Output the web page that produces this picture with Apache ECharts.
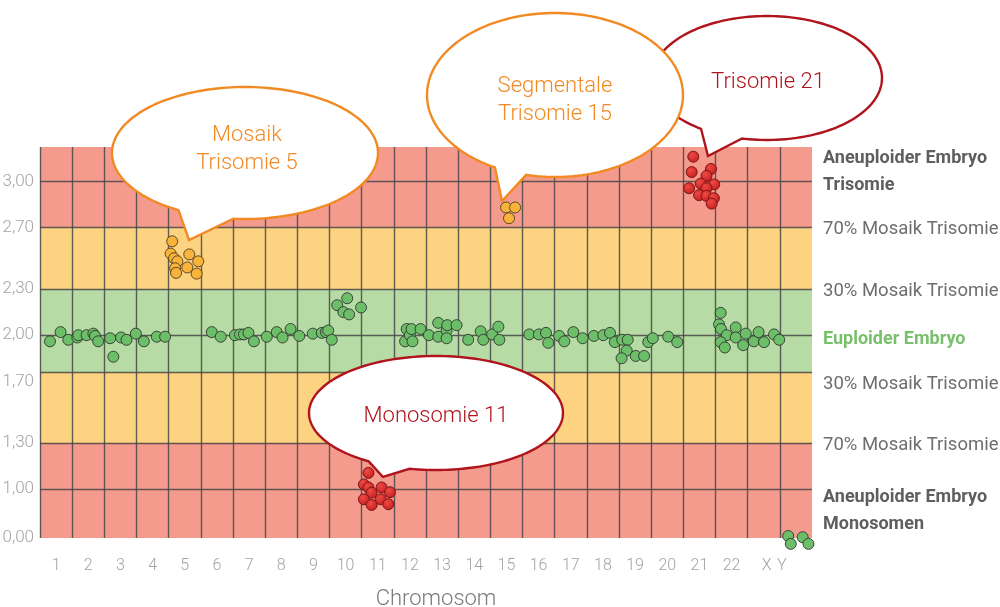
<!DOCTYPE html>
<html><head><meta charset="utf-8">
<script src="https://cdn.jsdelivr.net/npm/echarts@6/dist/echarts.min.js"></script>
<style>html,body{margin:0;padding:0;background:#fff}#c{width:1000px;height:607px}</style>
</head><body><div id="c"></div>
<script>
// ---------- data ----------
const categories = ['1','2','3','4','5','6','7','8','9','10','11','12','13','14','15','16','17','18','19','20','21','22','X','Y'];
const leftTicks = [0, 1.0, 1.3, 1.7, 2.0, 2.3, 2.7, 3.0];
const hLineValues = [0, 1.0, 1.3, 1.76, 2.0, 2.3, 2.7, 3.0];
const bandEdges = [0, 1.3, 1.76, 2.3, 2.7, 3.223];
const bandKinds = ['red', 'yellow', 'green', 'yellow', 'red'];
const rightLabelValues = [3.06, 2.687, 2.287, 1.975, 1.68, 1.287, 0.56];
const rightLabelTexts = [
  ['Aneuploider Embryo', 'Trisomie'],
  ['70% Mosaik Trisomie'],
  ['30% Mosaik Trisomie'],
  ['Euploider Embryo'],
  ['30% Mosaik Trisomie'],
  ['70% Mosaik Trisomie'],
  ['Aneuploider Embryo', 'Monosomen']
];
const rightLabelKinds = ['b', 'n', 'n', 'g', 'n', 'n', 'b'];

// points: [chromosome position, copy number]
const euploidPoints = [
  [0.31,1.96],[0.64,2.02],[0.88,1.97],[1.16,1.985],[1.19,2.00],[1.45,2.00],[1.66,2.01],[1.71,1.995],[1.81,1.96],
  [2.18,1.98],[2.28,1.86],[2.52,1.985],[2.69,1.97],[2.98,2.01],[3.23,1.96],[3.63,1.99],[3.89,1.99],
  [5.34,2.02],[5.62,1.99],[6.06,2.00],[6.22,2.005],[6.34,2.005],[6.48,2.015],[6.65,1.96],[7.05,1.99],[7.36,2.02],
  [7.54,1.985],[7.79,2.04],[8.06,1.995],[8.48,2.01],[8.76,2.015],[8.89,2.02],[8.96,2.03],[9.07,1.97],
  [9.24,2.195],[9.55,2.24],[9.43,2.15],[9.61,2.135],[9.98,2.18],
  [11.35,1.96],[11.40,2.04],[11.50,2.00],[11.55,2.04],[11.58,1.96],[11.83,2.04],
  [12.09,2.00],[12.38,2.08],[12.38,1.99],[12.64,2.03],[12.64,1.98],[12.66,2.065],[12.95,2.065],
  [13.31,1.97],[13.70,2.025],[13.78,1.97],[14.06,2.005],[14.25,2.055],[14.28,1.97],
  [15.21,2.005],[15.51,2.005],[15.73,2.015],[15.80,1.95],[16.14,1.995],[16.30,1.96],[16.58,2.02],[16.87,1.98],
  [17.22,1.995],[17.51,2.00],[17.72,2.015],[17.87,1.955],[18.10,1.97],[18.27,1.97],[18.24,1.90],[18.08,1.85],
  [18.52,1.865],[18.78,1.865],[18.91,1.955],[19.05,1.98],[19.53,1.99],[19.81,1.955],
  [21.16,2.145],[21.11,2.07],[21.17,2.04],[21.35,2.00],[21.16,1.955],[21.29,1.92],[21.63,2.05],[21.63,1.985],
  [21.94,2.01],[21.86,1.935],[22.19,1.96],[22.34,2.02],[22.51,1.955],[22.82,2.005],[22.98,1.97],
  [23.26,0.04],[23.34,-0.12],[23.71,0.015],[23.89,-0.12]
];
const mosaicPoints = [
  [4.11,2.61],[4.06,2.53],[4.17,2.50],[4.27,2.48],[4.20,2.435],[4.23,2.405],[4.64,2.525],[4.58,2.44],[4.92,2.48],[4.87,2.40],
  [14.49,2.83],[14.77,2.83],[14.58,2.76]
];
const aneuploidPoints = [
  [20.31,3.16],[20.26,3.06],[20.86,3.08],[20.72,3.035],[20.18,2.955],[20.54,2.985],[20.96,2.98],[20.72,2.955],
  [20.49,2.91],[20.72,2.905],[20.95,2.89],[20.88,2.855],
  [10.21,1.105],[10.07,1.03],[10.21,1.01],[10.31,0.925],[10.62,1.01],[10.88,0.935],[10.07,0.79],[10.59,0.79],
  [10.31,0.675],[10.83,0.69]
];

// ---------- scale (axis compressed below 1.00) ----------
const LOW = 49 / 154;
const tr = v => v >= 1 ? v : 1 - (1 - v) * LOW;
const inv = t => t >= 1 ? t : 1 - (1 - t) / LOW;
const YMIN = tr(0), YMAX = tr(bandEdges[bandEdges.length - 1]);

const bandColors = { red: '#F59B8E', yellow: '#FDD280', green: '#B6DBA4' };
const lineColor = 'rgba(70,70,70,0.85)';

const chart = echarts.init(document.getElementById('c'));

const markAreaData = bandKinds.map((k, i) => [
  { yAxis: tr(bandEdges[i]), itemStyle: { color: bandColors[k] } },
  { yAxis: tr(bandEdges[i + 1]) }
]);
const markLineData = hLineValues.map(v => ({ yAxis: tr(v) }))
  .concat(categories.map((c, i) => ({ xAxis: i })));

function bubble(cx, cy, rx, ry, a1, a2, tip) {
  const r = Math.PI / 180, pts = [];
  for (let a = a2; a < a1 + 360; a += 2) pts.push([cx + rx * Math.cos(a * r), cy + ry * Math.sin(a * r)]);
  pts.push([cx + rx * Math.cos(a1 * r), cy + ry * Math.sin(a1 * r)]);
  pts.push(tip);
  return pts;
}
const ORANGE = '#F28A24', DARKRED = '#B0141C';
function bubbleEls(b) {
  return [
    { type: 'polygon', z: 100, shape: { points: bubble(b.cx, b.cy, b.rx, b.ry, b.a1, b.a2, b.tip) },
      style: { fill: '#fff', stroke: b.color, lineWidth: 2.4 } },
    { type: 'text', z: 101, x: b.tx, y: b.ty,
      style: { text: b.text, fill: b.color, fontSize: 22, fontWeight: 300, fontFamily: 'Roboto',
               align: 'center', verticalAlign: 'middle', lineHeight: 28 } }
  ];
}
const bubbles = [
  { cx: 767, cy: 78, rx: 115, ry: 62, a1: 102.5, a2: 125, tip: [708, 156], color: DARKRED, text: 'Trisomie 21', tx: 768, ty: 82 },
  { cx: 555, cy: 95, rx: 128, ry: 82, a1: 103, a2: 118, tip: [502, 201], color: ORANGE, text: 'Segmentale\nTrisomie 15', tx: 555, ty: 100 },
  { cx: 245, cy: 153, rx: 133, ry: 66, a1: 95, a2: 120, tip: [189, 240], color: ORANGE, text: 'Mosaik\nTrisomie 5', tx: 247, ty: 149 },
  { cx: 436, cy: 413, rx: 127, ry: 57, a1: 102, a2: 122, tip: [383, 477], color: DARKRED, text: 'Monosomie 11', tx: 436, ty: 416 }
];

const pointBorder = 'rgba(45,45,45,0.85)';
const option = {
  animation: false,
  backgroundColor: '#fff',
  textStyle: { fontFamily: 'Roboto' },
  grid: { left: 40, right: 188, top: 147, bottom: 69, outerBoundsMode: 'none', containLabel: false },
  xAxis: [
    { type: 'category', data: categories, boundaryGap: true,
      axisLine: { show: false }, axisTick: { show: false }, splitLine: { show: false },
      axisLabel: { color: '#A3A3A3', fontSize: 16, fontWeight: 300, margin: 20, interval: 0,
        formatter: v => v === 'Y' ? '{y|Y}' : (v === 'X' ? '{x|X}' : v),
        rich: { y: { fontSize: 16, fontWeight: 300, color: '#A3A3A3', padding: [0, 28, 0, 0] },
                x: { fontSize: 16, fontWeight: 300, color: '#A3A3A3', padding: [0, 0, 0, 6] } } },
      name: 'Chromosom', nameLocation: 'middle', nameGap: 50,
      nameTextStyle: { color: '#7A7A7A', fontSize: 22, fontWeight: 300, padding: [0, 0, 0, 20] } },
    { type: 'value', min: 0, max: categories.length, show: false }
  ],
  yAxis: [
    { type: 'value', min: YMIN, max: YMAX, position: 'left',
      axisLine: { show: false }, axisTick: { show: false }, splitLine: { show: false },
      axisLabel: { customValues: leftTicks.map(tr), margin: 6, color: '#A3A3A3', fontSize: 17, fontWeight: 300,
        formatter: val => { const v = inv(val); return (Math.abs(v) < 1e-6 ? 0 : v).toFixed(2).replace('.', ','); } } },
    { type: 'value', min: YMIN, max: YMAX, position: 'right',
      axisLine: { show: false }, axisTick: { show: false }, splitLine: { show: false },
      axisLabel: { customValues: rightLabelValues.map(tr), margin: 11, align: 'left',
        formatter: val => {
          let best = 0, d = 1e9;
          rightLabelValues.forEach((v, i) => { const dd = Math.abs(tr(v) - val); if (dd < d) { d = dd; best = i; } });
          const k = rightLabelKinds[best];
          return rightLabelTexts[best].map(s => '{' + k + '|' + s + '}').join('\n');
        },
        rich: {
          b: { fontSize: 18, fontWeight: 700, color: '#5E5E5E', lineHeight: 27, fontFamily: 'Roboto' },
          n: { fontSize: 18.5, fontWeight: 400, color: '#6E6E6E', lineHeight: 27, fontFamily: 'Roboto' },
          g: { fontSize: 18, fontWeight: 700, color: '#78C06B', lineHeight: 27, fontFamily: 'Roboto' }
        } } }
  ],
  series: [
    { type: 'scatter', xAxisIndex: 1, yAxisIndex: 0, z: 1, silent: true, symbolSize: 0,
      data: [[0, YMIN]],
      markArea: { silent: true, data: markAreaData },
      markLine: { silent: true, symbol: 'none', label: { show: false },
        lineStyle: { color: lineColor, width: 1.4, type: 'solid' }, data: markLineData } },
    { type: 'scatter', name: 'euploid', xAxisIndex: 1, yAxisIndex: 0, z: 5, clip: false, symbolSize: 11,
      itemStyle: { color: '#6CBE69', borderColor: pointBorder, borderWidth: 1, opacity: 1 },
      data: euploidPoints.map(p => [p[0], tr(p[1])]) },
    { type: 'scatter', name: 'mosaic', xAxisIndex: 1, yAxisIndex: 0, z: 5, clip: false, symbolSize: 11,
      itemStyle: { color: '#F8B43A', borderColor: 'rgba(80,60,30,0.9)', borderWidth: 1, opacity: 1 },
      data: mosaicPoints.map(p => [p[0], tr(p[1])]) },
    { type: 'scatter', name: 'aneuploid', xAxisIndex: 1, yAxisIndex: 0, z: 5, clip: false, symbolSize: 11,
      itemStyle: { color: { type: 'radial', x: 0.4, y: 0.35, r: 0.7,
          colorStops: [{ offset: 0, color: '#F04A43' }, { offset: 1, color: '#C21C20' }] },
        borderColor: '#7E1515', borderWidth: 1, opacity: 1 },
      data: aneuploidPoints.map(p => [p[0], tr(p[1])]) }
  ],
  graphic: { elements: bubbles.flatMap(bubbleEls) }
};
chart.setOption(option);
</script>
</body></html>
